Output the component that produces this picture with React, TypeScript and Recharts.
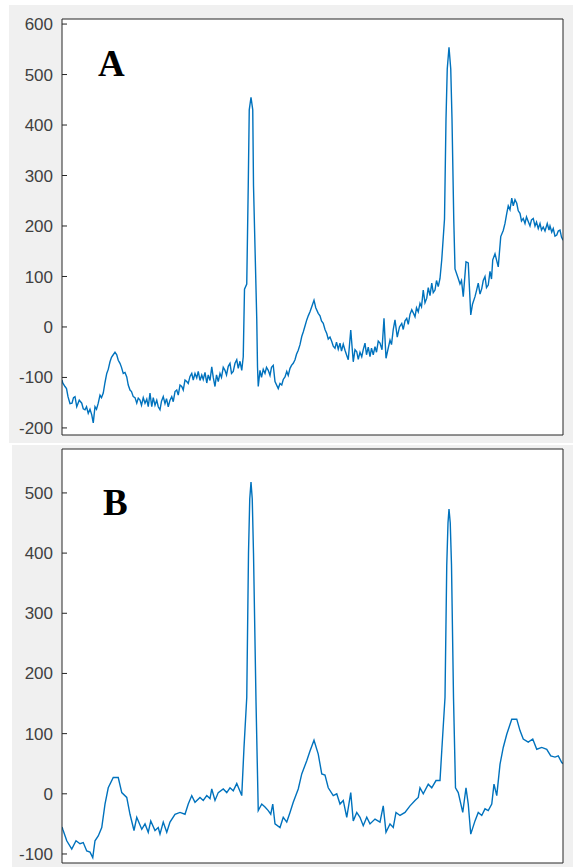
import React from 'react'
import { LineChart, Line, XAxis, YAxis } from 'recharts'

// panel A: raw ECG, [sample, amplitude]
const ecgA: [number, number][] = [
  [0, -105], [3, -111], [12, -118], [18, -122], [24, -138], [32, -152], [40, -151], [46, -140], [52, -138], [59, -158],
  [69, -145], [79, -151], [85, -162], [92, -164], [98, -158], [105, -171], [112, -163], [119, -174], [125, -190], [132, -158],
  [138, -163], [145, -151], [152, -135], [158, -140], [165, -131], [172, -110], [179, -92], [185, -84], [192, -69], [198, -60],
  [205, -55], [212, -50], [219, -55], [225, -66], [232, -72], [238, -80], [245, -92], [252, -90], [259, -99], [265, -115],
  [272, -125], [278, -128], [285, -138], [292, -140], [299, -151], [305, -141], [312, -145], [318, -155], [325, -140], [332, -151],
  [339, -143], [345, -158], [352, -131], [359, -158], [365, -140], [372, -155], [379, -145], [385, -158], [392, -164], [398, -147],
  [405, -138], [412, -152], [418, -142], [425, -158], [432, -145], [439, -138], [445, -148], [452, -128], [459, -125], [465, -135],
  [472, -115], [479, -118], [485, -125], [492, -105], [499, -108], [505, -112], [512, -98], [519, -92], [525, -105], [532, -92],
  [539, -101], [545, -88], [552, -106], [559, -95], [565, -104], [572, -90], [579, -111], [585, -95], [592, -106], [599, -79],
  [605, -100], [612, -118], [618, -95], [625, -108], [632, -92], [638, -100], [645, -80], [652, -86], [658, -95], [665, -78],
  [672, -72], [678, -92], [685, -88], [692, -72], [699, -65], [705, -82], [712, -68], [719, -86], [725, -59], [730, 75],
  [739, 85], [745, 280], [749, 430], [756, 455], [763, 430], [766, 280], [779, 16], [782, -79], [785, -118], [792, -86],
  [798, -100], [805, -84], [812, -92], [818, -80], [825, -86], [832, -96], [838, -80], [845, -76], [852, -108], [865, -122],
  [872, -112], [879, -115], [885, -104], [892, -99], [899, -88], [905, -96], [912, -82], [918, -76], [925, -72], [932, -65],
  [938, -54], [945, -46], [952, -35], [959, -19], [965, -10], [972, 2], [979, 14], [985, 22], [992, 30], [999, 40],
  [1008, 53], [1015, 38], [1025, 27], [1032, 22], [1038, 12], [1045, 7], [1052, -5], [1059, -13], [1065, -24], [1072, -20],
  [1079, -29], [1085, -38], [1092, -42], [1098, -30], [1105, -44], [1112, -32], [1118, -48], [1125, -34], [1132, -46], [1138, -55],
  [1145, -65], [1155, -6], [1165, -69], [1172, -45], [1179, -49], [1185, -64], [1192, -50], [1199, -59], [1205, -45], [1212, -32],
  [1218, -55], [1225, -40], [1232, -59], [1238, -42], [1245, -55], [1252, -39], [1258, -50], [1265, -28], [1272, -32], [1280, -45],
  [1288, 17], [1296, -62], [1312, -26], [1318, -35], [1325, -5], [1332, 14], [1341, -20], [1350, 0], [1359, 7], [1365, -5],
  [1372, 12], [1379, 17], [1385, 5], [1392, 25], [1399, 34], [1405, 28], [1412, 20], [1418, 38], [1425, 30], [1432, 47],
  [1438, 40], [1445, 73], [1452, 48], [1459, 57], [1465, 78], [1472, 62], [1479, 87], [1485, 68], [1492, 73], [1498, 92],
  [1505, 80], [1512, 96], [1519, 133], [1530, 214], [1536, 412], [1541, 511], [1548, 554], [1555, 511], [1560, 412], [1567, 214],
  [1572, 115], [1585, 96], [1592, 85], [1598, 92], [1605, 60], [1616, 129], [1625, 127], [1635, 24], [1642, 45], [1652, 60],
  [1658, 72], [1665, 87], [1672, 65], [1679, 76], [1685, 92], [1692, 100], [1698, 78], [1705, 83], [1712, 110], [1718, 95],
  [1723, 133], [1732, 145], [1745, 119], [1755, 179], [1765, 191], [1772, 205], [1779, 225], [1785, 240], [1792, 232], [1799, 255],
  [1805, 240], [1812, 252], [1819, 245], [1825, 230], [1832, 225], [1838, 210], [1845, 215], [1852, 205], [1858, 218], [1865, 209],
  [1872, 200], [1878, 212], [1885, 215], [1892, 200], [1898, 208], [1905, 195], [1912, 205], [1918, 192], [1925, 198], [1932, 190],
  [1941, 205], [1948, 192], [1952, 200], [1959, 188], [1965, 195], [1972, 180], [1979, 182], [1985, 190], [1992, 192], [1998, 178],
  [2004, 172],
]

// panel B: filtered ECG, [sample, amplitude]
const ecgB: [number, number][] = [
  [0, -55], [3, -59], [19, -78], [39, -92], [56, -78], [72, -83], [85, -81], [99, -95], [112, -97], [123, -106],
  [132, -78], [145, -70], [159, -56], [172, -17], [185, 10], [205, 27], [225, 27], [239, 2], [259, -6], [272, -34],
  [288, -61], [299, -39], [319, -59], [332, -50], [345, -64], [355, -45], [372, -61], [385, -56], [392, -67], [405, -47],
  [419, -64], [432, -47], [452, -34], [472, -31], [492, -34], [505, -17], [519, -3], [532, -14], [552, -6], [565, -11],
  [579, -3], [592, -8], [599, 8], [612, -11], [625, 2], [645, 8], [659, 2], [672, 10], [685, 5], [699, 17],
  [719, -3], [728, 77], [739, 160], [746, 400], [751, 490], [756, 518], [761, 490], [766, 400], [776, 154], [785, -28],
  [799, -17], [812, -22], [825, -28], [835, -34], [843, -17], [852, -50], [872, -56], [885, -39], [899, -47], [912, -31],
  [925, -14], [945, 8], [959, 33], [979, 55], [992, 71], [1008, 89], [1025, 66], [1039, 33], [1052, 31], [1065, 10],
  [1085, -3], [1099, 0], [1112, -17], [1125, -11], [1139, -39], [1155, 2], [1165, -45], [1179, -31], [1192, -39], [1205, -53],
  [1219, -39], [1232, -50], [1252, -42], [1272, -47], [1285, -20], [1296, -64], [1312, -50], [1325, -56], [1336, -31], [1352, -36],
  [1372, -31], [1392, -20], [1412, -11], [1425, -6], [1432, 10], [1445, 0], [1465, 16], [1479, 10], [1496, 22], [1512, 22],
  [1519, 71], [1532, 160], [1539, 380], [1544, 450], [1548, 473], [1553, 450], [1558, 380], [1566, 160], [1574, 10], [1585, 2],
  [1603, -31], [1616, 10], [1625, -17], [1635, -67], [1652, -45], [1665, -31], [1679, -36], [1692, -25], [1705, -28], [1719, -17],
  [1728, 16], [1739, -3], [1752, 49], [1765, 77], [1779, 99], [1799, 124], [1819, 124], [1832, 105], [1845, 91], [1865, 86],
  [1883, 91], [1899, 74], [1919, 77], [1939, 74], [1955, 63], [1972, 61], [1985, 63], [1999, 52], [2004, 50],
]

const xTicks = [500, 1000, 1500]
const aTicks = [-200, -100, 0, 100, 200, 300, 400, 500, 600]
const bTicks = [-100, 0, 100, 200, 300, 400, 500]

const axisColor = '#262626'
const lineColor = '#0072BD'

function toRows(pts: [number, number][]) {
  return pts.map(([x, y]) => ({ x, y }))
}

interface PanelProps {
  data: { x: number; y: number }[]
  domain: [number, number]
  ticks: number[]
  height: number
  top: number
  bottom: number
}

function Panel({ data, domain, ticks, height, top, bottom }: PanelProps) {
  return (
    <LineChart width={573} height={height} data={data} margin={{ top, right: 9, bottom, left: 12 }}>
      <XAxis
        dataKey="x"
        type="number"
        domain={[0, 2004]}
        ticks={xTicks}
        tick={false}
        tickSize={-5}
        height={1}
        stroke={axisColor}
        allowDataOverflow
      />
      <XAxis
        xAxisId="top"
        dataKey="x"
        orientation="top"
        type="number"
        domain={[0, 2004]}
        ticks={xTicks}
        tick={false}
        tickSize={-5}
        height={1}
        stroke={axisColor}
        allowDataOverflow
      />
      <YAxis
        type="number"
        domain={domain}
        ticks={ticks}
        width={50}
        tickSize={-5}
        tickMargin={14}
        stroke={axisColor}
        tick={{ fill: '#404040', fontSize: 17, fontFamily: 'Liberation Sans, Arial, sans-serif' }}
        allowDataOverflow
      />
      <YAxis
        yAxisId="right"
        orientation="right"
        type="number"
        domain={domain}
        ticks={ticks}
        width={1}
        tick={false}
        tickSize={-5}
        stroke={axisColor}
        allowDataOverflow
      />
      {/* invisible copy so the top and right axes get drawn */}
      <Line
        xAxisId="top"
        yAxisId="right"
        dataKey="y"
        stroke="none"
        dot={false}
        isAnimationActive={false}
      />
      <Line
        type="linear"
        dataKey="y"
        stroke={lineColor}
        strokeWidth={1.4}
        dot={false}
        isAnimationActive={false}
      />
    </LineChart>
  )
}

const letterStyle: React.CSSProperties = {
  position: 'absolute',
  fontFamily: 'Liberation Serif, Times New Roman, serif',
  fontWeight: 'bold',
  fontSize: 37,
  lineHeight: '37px',
  color: '#000',
}

export default function App() {
  return (
    <div style={{ position: 'absolute', left: 0, top: 0, width: 573, height: 867, background: '#fff', overflow: 'hidden' }}>
      <div style={{ position: 'absolute', left: 9, top: 5, width: 564, height: 438, background: '#f0f0f0' }} />
      <div style={{ position: 'absolute', left: 12, top: 445, width: 561, height: 422, background: '#f0f0f0' }} />
      <div style={{ position: 'absolute', left: 62, top: 19, width: 501, height: 416, background: '#fff' }} />
      <div style={{ position: 'absolute', left: 62, top: 449, width: 501, height: 414, background: '#fff' }} />

      <div style={{ position: 'absolute', left: 0, top: 0 }}>
        <Panel data={toRows(ecgA)} domain={[-214, 610]} ticks={aTicks} height={440} top={18} bottom={4} />
      </div>
      <div style={{ position: 'absolute', left: 0, top: 444 }}>
        <Panel data={toRows(ecgB)} domain={[-115, 573]} ticks={bTicks} height={423} top={4} bottom={3} />
      </div>

      <span style={{ ...letterStyle, left: 98, top: 45 }}>A</span>
      <span style={{ ...letterStyle, left: 103, top: 484 }}>B</span>
    </div>
  )
}
